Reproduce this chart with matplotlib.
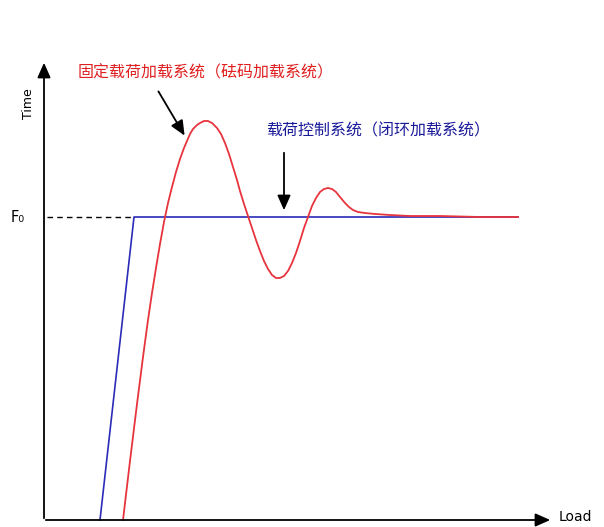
import matplotlib
matplotlib.use("Agg")
from matplotlib import pyplot as plt

plt.rcParams['font.family'] = ['Noto Sans CJK SC', 'DejaVu Sans']

# coordinates (pixel-like units, y grows downward)
F0 = 217
blue_x = [100, 134, 518]
blue_y = [520, F0, F0]

red_x = [123, 130, 137, 143, 148, 152, 156, 160, 164, 168, 172, 176, 180, 184, 187,
         190, 193, 197, 200, 204, 208, 212, 217, 221, 225, 229, 233, 237, 240, 244,
         248, 252, 256, 260, 264, 268, 272, 276, 280, 284, 288, 292, 296, 300, 304,
         308, 312, 316, 320, 324, 328, 332, 336, 340, 345, 349, 353, 358, 365, 375,
         390, 410, 440, 480, 518]
red_y = [520, 461, 404, 357, 320, 293, 268, 244, 222, 203, 187, 172, 159, 148, 141,
         134, 129, 125, 123, 121, 121, 123, 128, 134, 143, 154, 167, 180, 191, 204,
         216, 228, 240, 251, 261, 269, 275, 278, 278, 276, 271, 263, 253, 241, 228,
         217, 206, 198, 192, 189, 188, 189, 192, 197, 203, 207, 210, 212, 213, 214,
         215, 216, 216, 217, 217]

label_red = '固定载荷加载系统（砝码加载系统）'
label_blue = '载荷控制系统（闭环加载系统）'

fig = plt.figure(figsize=(6.04, 5.27), dpi=100)
ax = fig.add_axes([0, 0, 1, 1])
ax.set_xlim(0, 604)
ax.set_ylim(527, 0)
ax.axis('off')

# axes with arrow heads
ax.annotate('', xy=(44, 60), xytext=(44, 521),
            arrowprops=dict(arrowstyle='-|>,head_length=0.9,head_width=0.4', color='black', lw=1.3))
ax.annotate('', xy=(553, 520), xytext=(43, 520),
            arrowprops=dict(arrowstyle='-|>,head_length=0.9,head_width=0.4', color='black', lw=1.3))
ax.text(28, 104, 'Time', rotation=90, ha='center', va='center', fontsize=9, family='DejaVu Sans')
ax.text(559, 517, 'Load', ha='left', va='center', fontsize=10, family='DejaVu Sans')
ax.text(11, F0, 'F₀', ha='left', va='center', fontsize=10.5, family='DejaVu Sans')

# dashed reference line
ax.plot([47, 134], [F0, F0], color='black', lw=1, ls=(0, (4, 3)))

ax.plot(blue_x, blue_y, color='#2b2bb8', lw=1.2)
ax.plot(red_x, red_y, color='#e8343c', lw=1.3)

ax.text(78, 73, label_red, color='#e02020', fontsize=11.5, ha='left', va='center')
ax.text(266, 131, label_blue, color='#1a1a9a', fontsize=11.5, ha='left', va='center')

ax.annotate('', xy=(186, 138), xytext=(157, 89),
            arrowprops=dict(arrowstyle='-|>,head_length=0.9,head_width=0.4', color='black', lw=1.3))
ax.annotate('', xy=(284, 213), xytext=(284, 150),
            arrowprops=dict(arrowstyle='-|>,head_length=0.9,head_width=0.4', color='black', lw=1.3))

fig.savefig('out.png', dpi=100)
